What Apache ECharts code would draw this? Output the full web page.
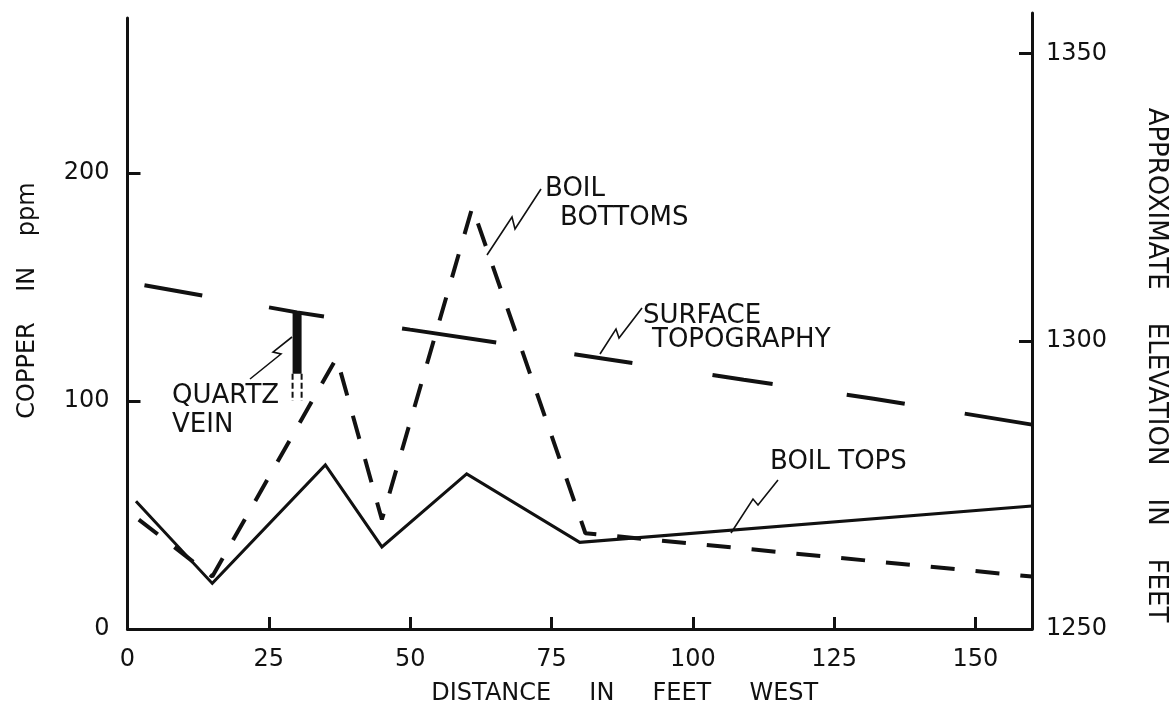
<!DOCTYPE html>
<html><head><meta charset="utf-8">
<script src="https://cdn.jsdelivr.net/npm/echarts@6/dist/echarts.min.js"></script>
<style>html,body{margin:0;padding:0;background:#fff}#c{width:1173px;height:704px}</style>
</head><body><div id="c"></div>
<script>
// ---- data ----
const xTicks = [0, 25, 50, 75, 100, 125, 150];
const copperTicks = [0, 100, 200];
const elevTicks = [1250, 1300, 1350];
// distance (ft west), copper (ppm)
const boilTops = [[1.5, 56], [15, 20], [35, 72], [45, 36], [60, 68], [80, 38], [160, 54]];
const boilBottoms = [[2, 48], [15, 23], [37, 119], [45, 48], [61, 185], [81, 42], [160, 23]];
// distance (ft west), elevation (ft)
const surfaceTopo = [[3, 1309.7], [30, 1305], [50, 1302], [84, 1297], [109, 1293.3], [132, 1290], [160, 1285.5]];
// quartz vein (distance, copper-scale height)
const quartzVeinSolid = [[30, 139], [30, 112]];
const quartzVeinLeft = [[29.2, 112], [29.2, 100]];
const quartzVeinRight = [[30.8, 112], [30.8, 100]];

const INK = '#111';
const FONT = 'DejaVu Sans';

const chart = echarts.init(document.getElementById('c'), null, {renderer: 'canvas'});

function leader(points) {
  return {type: 'polyline', shape: {points: points}, style: {stroke: INK, lineWidth: 1.6, fill: null}, silent: true};
}
function label(text, x, y) {
  return {type: 'text', x: x, y: y, silent: true,
    style: {text: text, font: '26px "' + FONT + '"', fill: INK, textAlign: 'left', textVerticalAlign: 'middle', align: 'left', verticalAlign: 'middle'}};
}
const plain = function (v) { return String(v); };

const option = {
  backgroundColor: '#fff',
  animation: false,
  textStyle: {fontFamily: FONT, color: INK},
  grid: [
    {left: 127.5, right: 141, top: 18, bottom: 75, containLabel: false, outerBoundsMode: 'none'},
    {left: 127.5, right: 141, top: 13, bottom: 75, containLabel: false, outerBoundsMode: 'none'}
  ],
  xAxis: [
    {
      type: 'value', gridIndex: 0, min: 0, max: 160,
      name: 'DISTANCE     IN     FEET     WEST', nameLocation: 'middle', nameGap: 53,
      nameTextStyle: {fontSize: 24, color: INK, fontFamily: FONT, padding: [0, 0, 0, 90]},
      axisLine: {onZero: false, lineStyle: {color: INK, width: 3}},
      axisTick: {inside: true, length: 12, lineStyle: {color: INK, width: 3}, customValues: xTicks},
      axisLabel: {margin: 19, fontSize: 24, color: INK, fontFamily: FONT, customValues: xTicks, formatter: plain},
      splitLine: {show: false}
    },
    {type: 'value', gridIndex: 1, min: 0, max: 160, show: false}
  ],
  yAxis: [
    {
      type: 'value', gridIndex: 0, min: 0, max: 268, position: 'left',
      name: 'COPPER    IN    ppm', nameLocation: 'middle', nameGap: 88,
      nameTextStyle: {fontSize: 24, color: INK, fontFamily: FONT, padding: [0, 0, 0, 46]},
      axisLine: {show: true, onZero: false, lineStyle: {color: INK, width: 3}},
      axisTick: {show: true, inside: true, length: 13, lineStyle: {color: INK, width: 3}, customValues: copperTicks},
      axisLabel: {margin: 18, fontSize: 24, color: INK, fontFamily: FONT, customValues: copperTicks, formatter: plain},
      splitLine: {show: false}
    },
    {
      type: 'value', gridIndex: 1, min: 1250, max: 1357, position: 'right',
      name: 'APPROXIMATE    ELEVATION    IN    FEET', nameLocation: 'middle', nameGap: 111, nameRotate: -90,
      nameTextStyle: {fontSize: 26, color: INK, fontFamily: FONT, padding: [0, 0, 0, 88]},
      axisLine: {show: true, onZero: false, lineStyle: {color: INK, width: 3}},
      axisTick: {show: true, inside: true, length: 13, lineStyle: {color: INK, width: 3}, customValues: elevTicks},
      axisLabel: {margin: 14, fontSize: 24, color: INK, fontFamily: FONT, customValues: elevTicks, formatter: plain},
      splitLine: {show: false}
    }
  ],
  series: [
    {
      name: 'BOIL TOPS', type: 'line', xAxisIndex: 0, yAxisIndex: 0, data: boilTops,
      showSymbol: false, symbol: 'none', silent: true,
      lineStyle: {color: INK, width: 3, join: 'miter'}
    },
    {
      name: 'BOIL BOTTOMS', type: 'line', xAxisIndex: 0, yAxisIndex: 0, data: boilBottoms,
      showSymbol: false, symbol: 'none', silent: true,
      lineStyle: {color: INK, width: 4, type: [24, 21]}
    },
    {
      name: 'SURFACE TOPOGRAPHY', type: 'line', xAxisIndex: 1, yAxisIndex: 1, data: surfaceTopo,
      showSymbol: false, symbol: 'none', silent: true,
      lineStyle: {color: INK, width: 4, type: [58.7, 67.8, 55.7, 79, 95.2, 79, 58.7, 81, 60.8, 74.9, 58.7, 60.8, 80, 40]}
    },
    {
      name: 'QUARTZ VEIN', type: 'line', xAxisIndex: 0, yAxisIndex: 0, data: quartzVeinSolid,
      showSymbol: false, symbol: 'none', silent: true,
      lineStyle: {color: INK, width: 9, cap: 'butt'}
    },
    {
      name: 'QUARTZ VEIN L', type: 'line', xAxisIndex: 0, yAxisIndex: 0, data: quartzVeinLeft,
      showSymbol: false, symbol: 'none', silent: true,
      lineStyle: {color: INK, width: 2, type: [6, 3]}
    },
    {
      name: 'QUARTZ VEIN R', type: 'line', xAxisIndex: 0, yAxisIndex: 0, data: quartzVeinRight,
      showSymbol: false, symbol: 'none', silent: true,
      lineStyle: {color: INK, width: 2, type: [6, 3]}
    }
  ],
  graphic: [
    label('QUARTZ', 172, 396),
    label('VEIN', 172, 425),
    leader([[250, 379], [281, 354], [273, 352], [292, 337]]),
    label('BOIL', 545, 189),
    label('BOTTOMS', 560, 218),
    leader([[541, 189], [515, 229], [512, 217], [487, 255]]),
    label('SURFACE', 643, 316),
    label('TOPOGRAPHY', 652, 340),
    leader([[642, 308], [619, 338], [616, 329], [600, 354]]),
    label('BOIL TOPS', 770, 462),
    leader([[778, 480], [758, 505], [753, 499], [731, 533]])
  ]
};
chart.setOption(option);
</script>
</body></html>
